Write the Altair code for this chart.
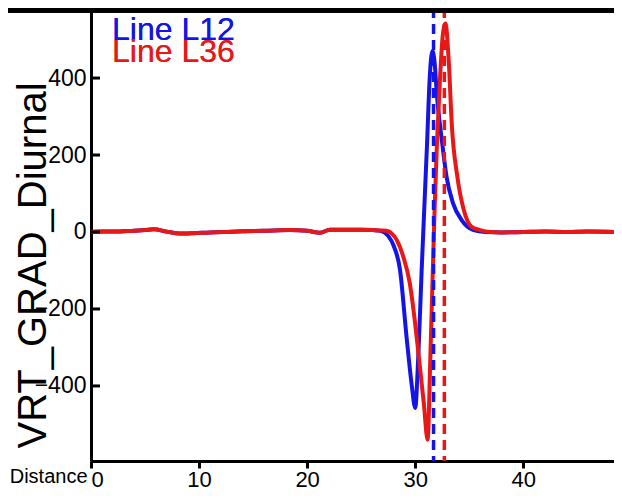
import altair as alt
import pandas as pd

# ---- data ----
base_x = [0, 1, 2, 3, 4, 5, 5.8, 7, 8.2, 9.5, 11, 12.2, 14, 16, 18.4, 20, 21.2, 22.1, 23.5, 25, 26.1]
base_y = [0, 1, 1, 2, 3, 5, 7, 1, -4, -3, -1, 0, 2, 3, 5, 3, -2, 6, 6, 6, 5]

l12_x = [26.8, 27.5, 28.0, 28.6, 29.2, 29.7, 30.0, 30.3, 30.6, 31.1, 31.35, 31.6, 31.8,
         32.0, 32.5, 32.9, 33.5, 34.3, 35.4, 36.5, 38, 40, 42, 44, 46, 48.4]
l12_y = [3, -10, -35, -99, -272, -402, -457, -315, -99, 230, 403, 470, 440,
         360, 231, 144, 75, 31, 5, 0, -1, 0, 1, 0, 1, 0]

l36_x = [27.0, 27.5, 27.8, 28.3, 28.9, 29.5, 29.9, 30.3, 30.8, 31.15, 31.4, 31.6, 31.8, 32.0,
         32.3, 32.55, 32.8, 33.1, 33.4, 33.9, 34.5, 35.2, 36.0, 37, 38, 40, 42, 44, 46, 48.4]
l36_y = [4, 2, -3, -21, -64, -133, -215, -315, -445, -540, -330, -130, 60, 220,
         400, 510, 542, 447, 274, 144, 57, 14, 5, 0, -1, 0, 1, 0, 1, 0]

peak_x = [31.7, 32.7]
series = ["Line L12", "Line L36"]
colors = ["#1414e6", "#e81818"]

y_ticks = [-400, -200, 0, 200, 400]
x_ticks = [0, 10, 20, 30, 40]

X_DOMAIN = [0, 48.4]
Y_DOMAIN = [-595, 582]

blue_df = pd.DataFrame({"Distance": base_x + l12_x, "VRT_GRAD_Diurnal": base_y + l12_y})
red_df = pd.DataFrame({"Distance": base_x + l36_x, "VRT_GRAD_Diurnal": base_y + l36_y})
peak_df = pd.DataFrame({"x": peak_x, "series": series})
ytick_df = pd.DataFrame({"v": y_ticks})

xs = alt.Scale(domain=X_DOMAIN, nice=False, zero=False)
ys = alt.Scale(domain=Y_DOMAIN, nice=False, zero=False)
FONT = "Liberation Sans"

x_enc = alt.X(
    "Distance:Q", scale=xs,
    axis=alt.Axis(values=x_ticks, title="Distance", titleX=-4, titleY=15,
                  titleAlign="right", titleBaseline="middle", titleFontSize=20,
                  titleFontWeight="normal", titleFont=FONT, labelFont=FONT,
                  labelFontSize=22, labelColor="black", labelPadding=1,
                  labelFlush=True, tickSize=7, tickWidth=3, tickColor="black",
                  domainColor="black", domainWidth=3, grid=False, format="d"),
)
y_enc = alt.Y(
    "VRT_GRAD_Diurnal:Q", scale=ys,
    axis=alt.Axis(values=y_ticks, title="VRT_GRAD_Diurnal", titleX=-58, titleY=257,
                  titleAngle=270, titleAlign="center", titleBaseline="middle",
                  titleFontSize=40, titleFontWeight="normal", titleFont=FONT,
                  titleColor="black", labelFont=FONT, labelFontSize=23,
                  labelColor="black", labelPadding=5, ticks=False, tickSize=0,
                  domainColor="black", domainWidth=3, grid=False, format="d"),
)

blue = alt.Chart(blue_df).mark_line(color=colors[0], strokeWidth=4, interpolate="monotone").encode(
    x=x_enc, y=y_enc)
red = alt.Chart(red_df).mark_line(color=colors[1], strokeWidth=4, interpolate="monotone").encode(
    x=alt.X("Distance:Q", scale=xs), y=alt.Y("VRT_GRAD_Diurnal:Q", scale=ys))

peaks = alt.Chart(peak_df).mark_rule(strokeWidth=3.5, strokeDash=[10, 6]).encode(
    x=alt.X("x:Q", scale=xs),
    color=alt.Color("series:N", scale=alt.Scale(domain=series, range=colors), legend=None),
)

inner_ticks = alt.Chart(ytick_df).mark_rule(color="black", strokeWidth=3).encode(
    y=alt.Y("v:Q", scale=ys), x=alt.value(0), x2=alt.value(9))

top_bar = alt.Chart(ytick_df).mark_rule(color="black", strokeWidth=9).encode(
    x=alt.value(-83), x2=alt.value(523), y=alt.value(0))

legend_l12 = alt.Chart(peak_df).mark_text(
    text=series[0], color=colors[0], fontSize=32, font=FONT, align="left",
    baseline="alphabetic").encode(x=alt.value(21), y=alt.value(31.5))
legend_l36 = alt.Chart(peak_df).mark_text(
    text=series[1], color=colors[1], fontSize=32, font=FONT, align="left",
    baseline="alphabetic").encode(x=alt.value(21), y=alt.value(54))

chart = alt.layer(blue, red, peaks, inner_ticks, top_bar, legend_l12, legend_l36).properties(
    width=523, height=453,
    autosize=alt.AutoSizeParams(type="none"),
    padding={"left": 83, "top": 0, "right": 0, "bottom": 31},
).configure_view(stroke=None).configure(background="white")

chart.save("out.html", embed_options={"renderer": "svg", "actions": False})
